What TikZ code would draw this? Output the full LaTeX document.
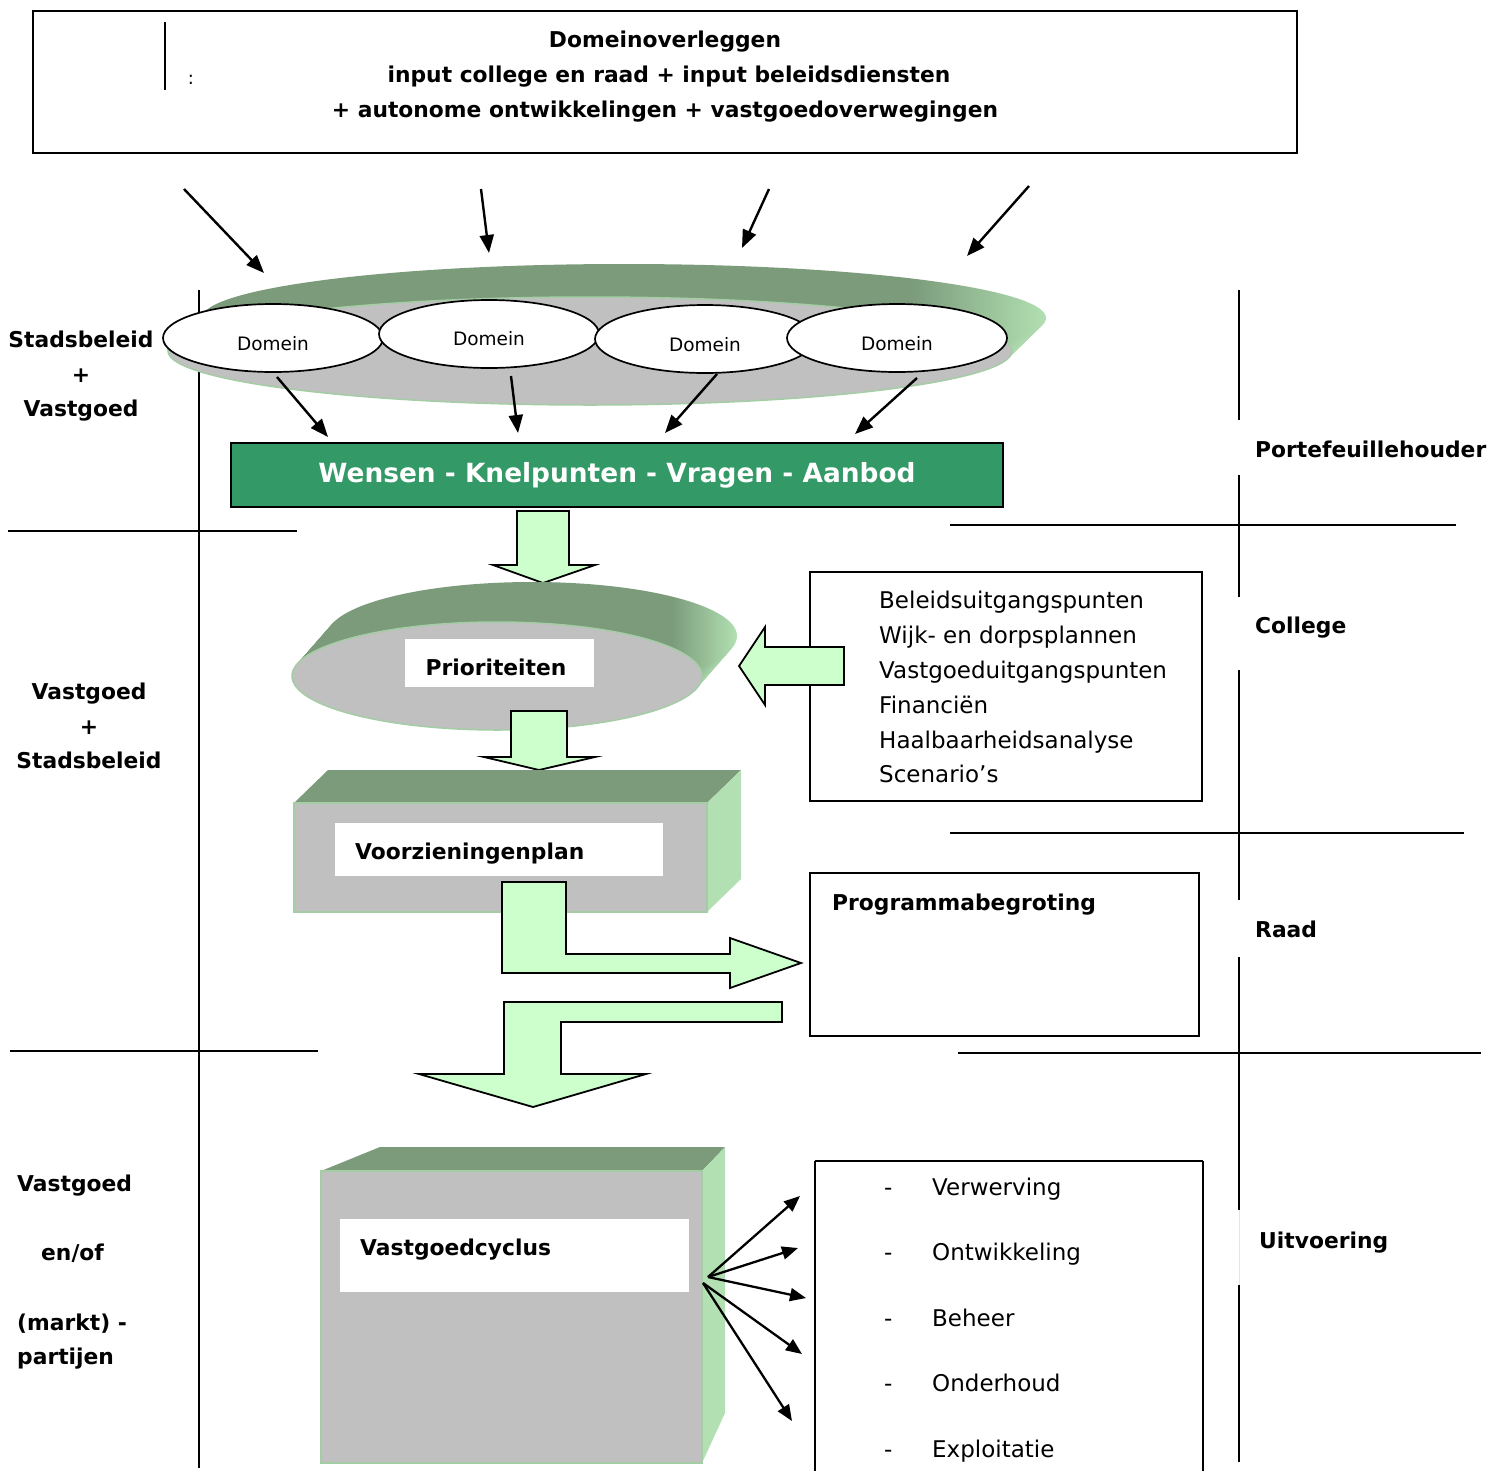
\documentclass[tikz,border=0pt]{standalone}
\usepackage{fontspec}
\setmainfont{DejaVu Sans}
\usetikzlibrary{arrows.meta,shapes.geometric}
\definecolor{dkg}{RGB}{123,155,123}
\definecolor{ltg}{RGB}{178,224,178}
\definecolor{rimg}{RGB}{165,205,165}
\definecolor{grayface}{RGB}{192,192,192}
\definecolor{barg}{RGB}{51,153,102}
\definecolor{blockg}{RGB}{204,255,204}
\pgfdeclarehorizontalshading{rimshade}{100bp}{color(0bp)=(dkg); color(25bp)=(dkg); color(67bp)=(dkg); color(75bp)=(ltg); color(100bp)=(ltg)}
\tikzset{
  bt/.style={font=\fontsize{21.8}{26}\selectfont\bfseries, inner sep=0pt},
  rt/.style={font=\fontsize{23}{28}\selectfont, inner sep=0pt},
  sepline/.style={line width=1.8pt},
  boxline/.style={draw=black, line width=1.8pt},
  arr/.style={-{Triangle[length=18pt,width=14pt]}, line width=2.4pt},
  fanarr/.style={-{Triangle[length=16pt,width=13pt]}, line width=2.3pt},
  blockarrow/.style={fill=blockg, draw=black, line width=1.8pt, line join=miter},
  domein/.style={ellipse, draw=black, line width=1.7pt, fill=white, minimum width=220pt, minimum height=68pt, inner sep=0pt},
  dtext/.style={font=\fontsize{18.5}{22}\selectfont, inner sep=0pt},
  frontface/.style={fill=grayface, draw=rimg, line width=1.2pt},
  topface/.style={fill=dkg},
  sideface/.style={fill=ltg}
}
\begin{document}
\begin{tikzpicture}[x=1pt,y=-1pt]
\useasboundingbox (0,0) rectangle (1496,1470);
\fill[white] (0,0) rectangle (1496,1470);

% ---------- top box ----------
\draw[boxline] (33,11) rectangle (1297,153);
\draw[line width=2pt] (165,22) -- (165,90);
\node[font=\fontsize{18}{20}\selectfont, inner sep=0pt] (colon) at (191,80) {:};
\node[bt, anchor=base] (t1) at (665,47) {Domeinoverleggen};
\node[bt, anchor=base] (t2) at (669,82) {input college en raad + input beleidsdiensten};
\node[bt, anchor=base] (t3) at (665,117) {+ autonome ontwikkelingen + vastgoedoverwegingen};

% incoming arrows
\coordinate (a1s) at (184,189); \coordinate (a1e) at (264,273);
\coordinate (a2s) at (481,189); \coordinate (a2e) at (489,253);
\coordinate (a3s) at (769,189); \coordinate (a3e) at (742,248);
\coordinate (a4s) at (1029,186); \coordinate (a4e) at (967,256);
\draw[arr] (a1s) -- (a1e);
\draw[arr] (a2s) -- (a2e);
\draw[arr] (a3s) -- (a3e);
\draw[arr] (a4s) -- (a4e);

% ---------- separator lines ----------
\draw[sepline] (199,290) -- (199,1468);
\draw[sepline] (8,531) -- (297,531);
\draw[sepline] (10,1051) -- (318,1051);
\draw[sepline] (1239,290) -- (1239,420);
\draw[sepline] (1239,475) -- (1239,597);
\draw[sepline] (1239,670) -- (1239,900);
\draw[sepline] (1239,957) -- (1239,1210);
\draw[line width=1pt, black!10] (1239,1210) -- (1239,1285);
\draw[sepline] (1239,1285) -- (1239,1462);
\draw[sepline] (950,525) -- (1456,525);
\draw[sepline] (950,833) -- (1464,833);
\draw[sepline] (958,1053) -- (1481,1053);

% ---------- big disc ----------
\foreach \i in {0,...,40}{
  \shade[shading=rimshade] ({590+34*\i/40},{351-33*\i/40}) ellipse [x radius=422pt, y radius=54pt];
}
\filldraw[fill=grayface, draw=rimg, line width=1.5pt] (590,351) ellipse [x radius=422pt, y radius=54pt];

\node[domein] (d1) at (273,338) {};
\node[domein] (d2) at (489,334) {};
\node[domein] (d3) at (705,339) {};
\node[domein] (d4) at (897,338) {};
\node[dtext] (d1t) at (273,344) {Domein};
\node[dtext] (d2t) at (489,339) {Domein};
\node[dtext] (d3t) at (705,345) {Domein};
\node[dtext] (d4t) at (897,344) {Domein};

% ---------- green bar ----------
\node[fill=barg, draw=black, line width=1.8pt, minimum width=772pt, minimum height=64pt, inner sep=0pt,
      text=white, font=\fontsize{26.4}{30}\selectfont\bfseries] (bar) at (617,475) {Wensen - Knelpunten - Vragen - Aanbod};

\coordinate (b1s) at (277,377); \coordinate (b1e) at (328,437);
\coordinate (b2s) at (511,376); \coordinate (b2e) at (518,433);
\coordinate (b3s) at (717,374); \coordinate (b3e) at (665,433);
\coordinate (b4s) at (917,378); \coordinate (b4e) at (855,434);
\draw[arr] (b1s) -- (b1e);
\draw[arr] (b2s) -- (b2e);
\draw[arr] (b3s) -- (b3e);
\draw[arr] (b4s) -- (b4e);

% block arrow down 1
\draw[blockarrow] (517,511) -- (569,511) -- (569,565) -- (595,565) -- (543,583) -- (493,565) -- (517,565) -- cycle;

% ---------- Prioriteiten disc ----------
\foreach \i in {0,...,40}{
  \shade[shading=rimshade] ({497+35*\i/40},{676-40*\i/40}) ellipse [x radius=205pt, y radius=54pt];
}
\filldraw[fill=grayface, draw=rimg, line width=1.5pt] (497,676) ellipse [x radius=205pt, y radius=54pt];
\fill[white] (405,639) rectangle (594,687);
\node[bt, anchor=base] (prio) at (496,675) {Prioriteiten};

% block arrow down 2
\draw[blockarrow] (511,711) -- (567,711) -- (567,757) -- (595,757) -- (539,770) -- (484,757) -- (511,757) -- cycle;

% ---------- Voorzieningenplan box ----------
\fill[topface] (294,803) -- (328,770) -- (741,770) -- (707,803) -- cycle;
\fill[sideface] (707,803) -- (741,770) -- (741,879) -- (707,912) -- cycle;
\filldraw[frontface] (294,803) rectangle (707,912);
\fill[white] (335,823) rectangle (663,876);
\node[bt, anchor=base west] (vzp) at (355,859) {Voorzieningenplan};

% bent arrow right
\draw[blockarrow] (502,882) -- (566,882) -- (566,954) -- (730,954) -- (730,938) -- (801,963) -- (730,988) -- (730,973) -- (502,973) -- cycle;

% bent arrow down
\draw[blockarrow] (782,1002) -- (782,1022) -- (561,1022) -- (561,1074) -- (646,1074) -- (533,1107) -- (419,1074) -- (504,1074) -- (504,1002) -- cycle;

% ---------- right box 1 ----------
\draw[boxline] (810,572) rectangle (1202,801);
\node[rt, anchor=base west] (r1) at (879,608) {Beleidsuitgangspunten};
\node[rt, anchor=base west] (r2) at (879,643) {Wijk- en dorpsplannen};
\node[rt, anchor=base west] (r3) at (879,678) {Vastgoeduitgangspunten};
\node[rt, anchor=base west] (r4) at (879,713) {Financiën};
\node[rt, anchor=base west] (r5) at (879,748) {Haalbaarheidsanalyse};
\node[rt, anchor=base west] (r6) at (879,782) {Scenario’s};

% left block arrow
\draw[blockarrow] (844,647) -- (844,685) -- (765,685) -- (765,705) -- (739,666) -- (765,627) -- (765,647) -- cycle;

% ---------- Programmabegroting ----------
\draw[boxline] (810,873) rectangle (1199,1036);
\node[bt, anchor=base west] (pb) at (832,910) {Programmabegroting};

% ---------- Vastgoedcyclus box ----------
\fill[topface] (321,1171) -- (380,1147) -- (725,1147) -- (702,1171) -- cycle;
\fill[sideface] (702,1171) -- (725,1147) -- (725,1413) -- (702,1463) -- cycle;
\filldraw[frontface] (321,1171) rectangle (702,1463);
\fill[white] (340,1219) rectangle (689,1292);
\node[bt, anchor=base west] (vgc) at (360,1255) {Vastgoedcyclus};

% fan arrows
\coordinate (f1) at (708,1277);
\coordinate (f2) at (703,1283);
\coordinate (e1) at (800,1196);
\coordinate (e2) at (798,1248);
\coordinate (e3) at (806,1298);
\coordinate (e4) at (802,1354);
\coordinate (e5) at (792,1421);
\draw[fanarr] (f1) -- (e1);
\draw[fanarr] (f1) -- (e2);
\draw[fanarr] (f1) -- (e3);
\draw[fanarr] (f2) -- (e4);
\draw[fanarr] (f2) -- (e5);

% ---------- right bottom box ----------
\draw[boxline] (815,1161) -- (1203,1161);
\draw[boxline] (815,1161) -- (815,1472);
\draw[boxline] (1203,1161) -- (1203,1472);
\foreach \y/\txt/\nm in {1195/Verwerving/l1, 1260/Ontwikkeling/l2, 1326/Beheer/l3, 1391/Onderhoud/l4, 1457/Exploitatie/l5}{
  \node[rt, anchor=base west] (\nm d) at (884,\y) {-};
  \node[rt, anchor=base west] (\nm) at (932,\y) {\txt};
}

% ---------- left labels ----------
\node[bt, anchor=base] (sl1) at (81,347) {Stadsbeleid};
\node[bt, anchor=base] (sl2) at (81,382) {+};
\node[bt, anchor=base] (sl3) at (81,416) {Vastgoed};
\node[bt, anchor=base] (ml1) at (89,699) {Vastgoed};
\node[bt, anchor=base] (ml2) at (89,734) {+};
\node[bt, anchor=base] (ml3) at (89,768) {Stadsbeleid};
\node[bt, anchor=base west] (bl1) at (17,1191) {Vastgoed};
\node[bt, anchor=base west] (bl2) at (41,1260) {en/of};
\node[bt, anchor=base west] (bl3) at (17,1330) {(markt) -};
\node[bt, anchor=base west] (bl4) at (17,1364) {partijen};

% ---------- right labels ----------
\node[bt, anchor=base west] (pf) at (1255,457) {Portefeuillehouder};
\node[bt, anchor=base west] (col) at (1255,633) {College};
\node[bt, anchor=base west] (raad) at (1255,937) {Raad};
\node[bt, anchor=base west] (uitv) at (1259,1248) {Uitvoering};
\end{tikzpicture}
\end{document}
